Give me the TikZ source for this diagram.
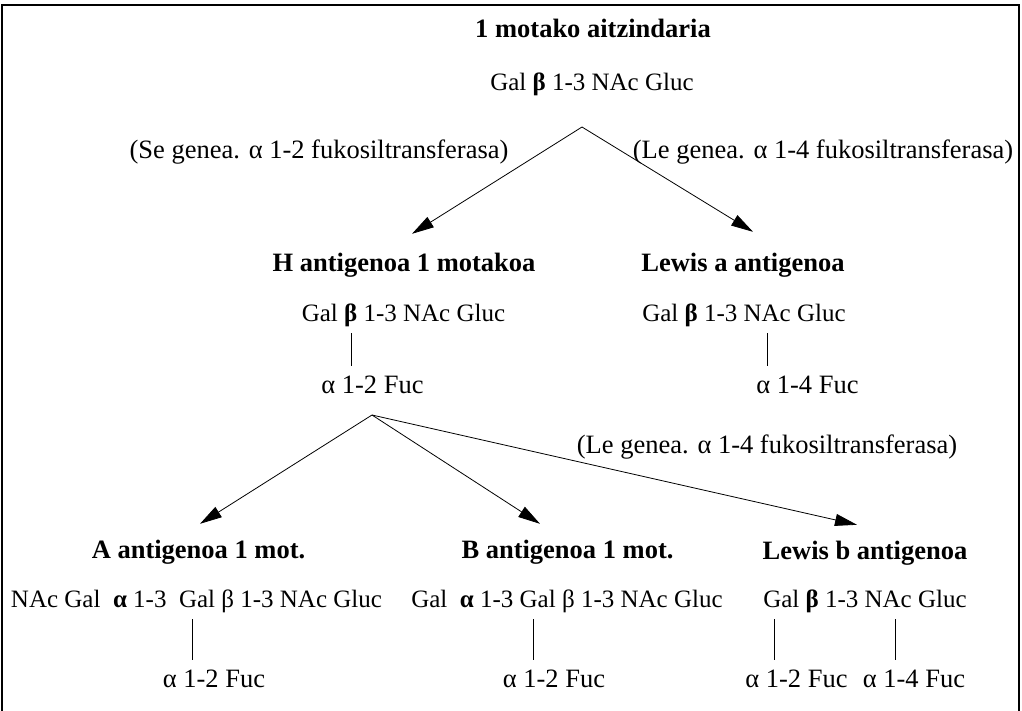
\documentclass[tikz,border=0pt]{standalone}
\usepackage{fontspec}
\setmainfont{Liberation Serif}
\usetikzlibrary{arrows.meta}

\begin{document}
\begin{tikzpicture}[x=1pt,y=-1pt,
    txt/.style={inner sep=0pt,anchor=base,text height=17pt,text depth=6pt,
        font=\fontsize{25}{30}\selectfont},
    lbl/.style={txt,font=\fontsize{26.5}{31}\selectfont},
    title/.style={txt,font=\fontsize{26.5}{31}\selectfont\bfseries},
    arr/.style={line width=0.8pt,-{Triangle[length=22pt,width=12pt]}},
    bond/.style={line width=1pt,shorten <=6pt,shorten >=10pt}]
    \useasboundingbox (0,0) rectangle (1022,710);
    % Frame
    \draw[line width=1.6pt] (2,714) -- (2,5) -- (1019,5) -- (1019,714);
    % Precursor
    \node[title] (prec) at (593,37) {1 motako aitzindaria};
    \node[txt] (precchain) at (592,90) {Gal {\bfseries β} 1-3 NAc Gluc};
    \coordinate (fork1) at (582,127);
    \node[lbl] (seenz) at (319,158) {(Se genea. α 1-2 fukosiltransferasa)};
    \node[lbl] (leenz) at (823,158) {(Le genea. α 1-4 fukosiltransferasa)};
    % H antigen and Lewis a
    \node[title] (hant) at (404,271) {H antigenoa 1 motakoa};
    \node[txt] (hchain) at (403.5,321) {Gal {\bfseries β} 1-3 NAc Gluc};
    \node[lbl] (hfuc) at (372.5,393) {α 1-2 Fuc};
    \node[title] (lea) at (743,271) {Lewis a antigenoa};
    \node[txt] (leachain) at (744,321) {Gal {\bfseries β} 1-3 NAc Gluc};
    \node[lbl] (leafuc) at (807.5,393) {α 1-4 Fuc};
    \draw[arr] (fork1) -- ([xshift=8pt,yshift=20pt]hant.north);
    \draw[arr] (fork1) -- ([xshift=10pt,yshift=22pt]lea.north);
    \draw[bond] ([xshift=-52.5pt]hchain.south) -- ([xshift=-52.5pt]hchain.south |- hfuc.north);
    \draw[bond] ([xshift=23pt]leachain.south) -- ([xshift=23pt]leachain.south |- leafuc.north);
    % A, B and Lewis b
    \coordinate (fork2) at (372,415);
    \node[lbl] (leenz2) at (767,453) {(Le genea. α 1-4 fukosiltransferasa)};
    \node[title] (aant) at (198.5,558) {A antigenoa 1 mot.};
    \node[txt] (achain) at (196.5,607) {NAc Gal\ \ {\bfseries α} 1-3\ \ Gal β 1-3 NAc Gluc};
    \node[lbl] (afuc) at (214,687) {α 1-2 Fuc};
    \node[title] (bant) at (567.5,558) {B antigenoa 1 mot.};
    \node[txt] (bchain) at (567,607) {Gal\ \ {\bfseries α} 1-3 Gal β 1-3 NAc Gluc};
    \node[lbl] (bfuc) at (554,687) {α 1-2 Fuc};
    \node[title] (leb) at (865,559) {Lewis b antigenoa};
    \node[txt] (lebchain) at (865,607) {Gal {\bfseries β} 1-3 NAc Gluc};
    \node[lbl] (lebfuca) at (796.5,687) {α 1-2 Fuc};
    \node[lbl] (lebfucb) at (914,687) {α 1-4 Fuc};
    \draw[arr] (fork2) -- ([xshift=1.5pt,yshift=17pt]aant.north);
    \draw[arr] (fork2) -- ([xshift=-27.5pt,yshift=17pt]bant.north);
    \draw[arr] (fork2) -- ([xshift=-8pt,yshift=17pt]leb.north);
    \draw[bond] ([xshift=-4.5pt]achain.south) -- ([xshift=-4.5pt]achain.south |- afuc.north);
    \draw[bond] ([xshift=-34pt]bchain.south) -- ([xshift=-34pt]bchain.south |- bfuc.north);
    \draw[bond] ([xshift=-91pt]lebchain.south) -- ([xshift=-91pt]lebchain.south |- lebfuca.north);
    \draw[bond] ([xshift=30pt]lebchain.south) -- ([xshift=30pt]lebchain.south |- lebfucb.north);
\end{tikzpicture}
\end{document}
